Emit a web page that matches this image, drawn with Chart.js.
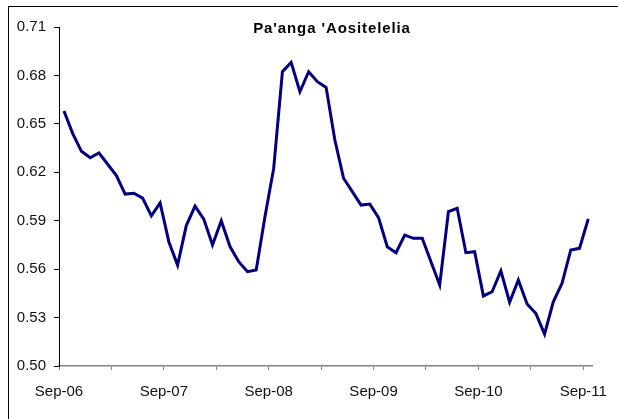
<!DOCTYPE html>
<html lang="en">
<head>
  <meta charset="UTF-8" />
  <title>Pa'anga 'Aositelelia</title>
  <style>
    body {
      margin: 0;
      background: #ffffff;
      font-family: 'Liberation Sans', Arial, sans-serif;
      overflow: hidden;
    }

    .wrap {
      position: relative;
      width: 618px;
      height: 419px;
    }

    .frame {
      position: absolute;
      left: 8px;
      top: 6px;
      width: 700px;
      height: 500px;
      border: 1px solid #000;
    }

    .titulo {
      position: absolute;
      left: 0;
      width: 664px;
      top: 19px;
      text-align: center;
      font-weight: bold;
      font-size: 15px;
      letter-spacing: 0.9px;
      color: #000;
    }

    canvas {
      position: absolute;
      left: 0;
      top: 0;
    }
  </style>
</head>
<body>
  <div class="wrap">
    <div class="frame"></div>
    <canvas id="grafico" width="618" height="419"></canvas>
    <div class="titulo">Pa'anga 'Aositelelia</div>
  </div>

  <script src="https://cdn.jsdelivr.net/npm/chart.js"></script>
  <script>
    // monthly values, Sep-06 .. Sep-11
    const valores = [
      0.658, 0.644, 0.633, 0.629, 0.632, 0.625, 0.618, 0.6065, 0.607, 0.604,
      0.593, 0.601, 0.577, 0.5625, 0.587, 0.599, 0.591, 0.575, 0.590, 0.574,
      0.5646, 0.5584, 0.5595, 0.5925, 0.6224, 0.6823, 0.6881, 0.6699, 0.6823, 0.6761,
      0.6726, 0.640, 0.6163, 0.608, 0.5997, 0.6003, 0.5919, 0.5739, 0.5702, 0.5811,
      0.5791, 0.5791, 0.5646, 0.5502, 0.5956, 0.5977, 0.5702, 0.5708, 0.5434, 0.546,
      0.559, 0.5395, 0.5533, 0.5384, 0.5326, 0.5198, 0.5398, 0.5512, 0.5719, 0.5729,
      0.5911
    ];
    const rotulosX = ['Sep-06', 'Sep-07', 'Sep-08', 'Sep-09', 'Sep-10', 'Sep-11'];
    const ticksX = [0, 6, 12, 18, 24, 30, 36, 42, 48, 54, 60];
    const ticksY = [0.50, 0.53, 0.56, 0.59, 0.62, 0.65, 0.68, 0.71];

    const pontos = valores.map((v, i) => ({ x: i + 0.57, y: v }));
    const fonte = { family: "'Liberation Sans', Arial, sans-serif", size: 15 };

    new Chart(document.getElementById('grafico'), {
      type: 'line',
      data: {
        datasets: [{
          data: pontos,
          borderColor: '#000080',
          borderWidth: 3,
          pointRadius: 0,
          tension: 0,
          fill: false
        }]
      },
      options: {
        responsive: false,
        animation: false,
        layout: { padding: { left: 0, right: 26, top: 27, bottom: 0 } },
        plugins: {
          legend: { display: false },
          tooltip: { enabled: false }
        },
        scales: {
          x: {
            type: 'linear',
            min: 0,
            max: 61,
            afterBuildTicks: s => { s.ticks = ticksX.map(v => ({ value: v })); },
            afterFit: s => {
              s.height = 53;
              s.paddingLeft = 0;
              s.paddingRight = 0;
            },
            ticks: {
              autoSkip: false,
              maxRotation: 0,
              padding: 13,
              color: '#111',
              font: fonte,
              callback: v => (v % 12 === 0 ? rotulosX[v / 12] : '')
            },
            grid: { drawOnChartArea: false, tickLength: 4, color: '#808080' },
            border: { color: '#808080', width: 1.5 }
          },
          y: {
            min: ticksY[0],
            max: ticksY[ticksY.length - 1],
            afterBuildTicks: s => { s.ticks = ticksY.map(v => ({ value: v })); },
            afterFit: s => { s.width = 59; },
            ticks: {
              padding: 8,
              color: '#111',
              font: fonte,
              callback: v => v.toFixed(2)
            },
            grid: { drawOnChartArea: false, tickLength: 5, color: '#000' },
            border: { color: '#000', width: 1 }
          }
        }
      }
    });
  </script>
</body>
</html>
